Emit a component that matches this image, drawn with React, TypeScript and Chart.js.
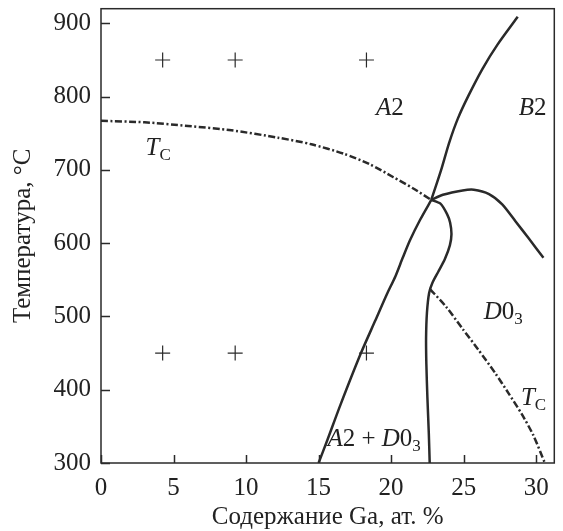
import React, { useEffect, useRef } from "react";
import { Chart, registerables } from "chart.js";
Chart.register(...registerables);

// Axis ticks
const xTickValues = [0, 5, 10, 15, 20, 25, 30];
const yTickValues = [300, 400, 500, 600, 700, 800, 900];
const xTitle = "Содержание Ga, ат. %";
const yTitle = "Температура, °C";

// Curves [x (at.% Ga), T (°C)]
const tcUpper: number[][] = [
  [0, 767], [3, 765], [6, 760], [9, 754], [12.2, 744], [14.5, 735],
  [16.75, 722], [18.5, 708], [20.16, 690], [21.5, 675], [22.77, 659],
];
const a2b2: number[][] = [
  [22.77, 659], [23.45, 700], [24.0, 737], [24.6, 770], [25.35, 802],
  [26.3, 838], [27.3, 870], [28.73, 909],
];
const b2d03: number[][] = [
  [22.77, 659], [23.57, 666], [24.93, 672], [25.7, 673], [26.75, 667],
  [27.66, 653], [28.57, 630], [29.47, 607], [30.5, 580],
];
const a2Left: number[][] = [
  [22.77, 659], [22.0, 632], [21.3, 604], [20.8, 580], [20.3, 555],
  [19.7, 530], [18.9, 494], [17.9, 449], [16.5, 379], [15.6, 331],
  [15.0, 300],
];
const innerLoop: number[][] = [
  [22.77, 659], [23.4, 654], [23.85, 640], [24.07, 628], [24.16, 612],
  [24.05, 597], [23.7, 578], [23.25, 561], [22.85, 546], [22.62, 532],
  [22.47, 505], [22.41, 470], [22.43, 435], [22.5, 390], [22.6, 340],
  [22.66, 300],
];
const tcLower: number[][] = [
  [22.7, 537], [23.8, 513], [24.93, 483], [26.0, 455], [27.2, 422],
  [28.1, 395], [29.0, 367], [29.8, 338], [30.6, 300],
];
const samplePoints: number[][] = [
  [4.25, 850], [9.25, 850], [18.3, 850],
  [4.25, 450], [9.25, 450], [18.3, 450],
];

// Region labels: x, y (baseline), parts: [text, style]  i = italic, n = normal, s = subscript
const regionLabels: { x: number; y: number; parts: [string, string][] }[] = [
  { x: 18.95, y: 775.5, parts: [["A", "i"], ["2", "n"]] },
  { x: 28.8, y: 775.5, parts: [["B", "i"], ["2", "n"]] },
  { x: 3.07, y: 721, parts: [["T", "i"], ["C", "s"]] },
  { x: 26.39, y: 497, parts: [["D", "i"], ["0", "n"], ["3", "s"]] },
  { x: 28.95, y: 379, parts: [["T", "i"], ["C", "s"]] },
  { x: 15.61, y: 323, parts: [["A", "i"], ["2 + ", "n"], ["D", "i"], ["0", "n"], ["3", "s"]] },
];

const FONT = "'Liberation Serif', 'DejaVu Serif', serif";
const FS = 25;
const INK = "#2a2a2a";
const TEXT = "#222";

const toXY = (arr: number[][]) => arr.map(([x, y]) => ({ x, y }));

const zeroPad = (scale: any) => {
  scale.paddingTop = 0;
  scale.paddingBottom = 0;
  scale.paddingLeft = 0;
  scale.paddingRight = 0;
};

export default function App() {
  const ref = useRef<HTMLCanvasElement>(null);
  useEffect(() => {
    const canvas = ref.current!;
    const dashDot = [7, 2.5, 2, 2.5];
    const lineDs = (data: number[][], dashed: boolean) => ({
      type: "scatter" as const,
      data: toXY(data),
      showLine: true,
      borderColor: INK,
      borderWidth: 2.5,
      borderDash: dashed ? dashDot : [],
      pointRadius: 0,
      tension: 0.25,
      fill: false,
    });

    const framePlugin = {
      id: "frame",
      afterDraw(chart: any) {
        const { ctx, chartArea: a, scales } = chart;
        const xs = scales.x, ys = scales.y;
        ctx.save();
        ctx.strokeStyle = INK;
        ctx.lineWidth = 1.5;
        ctx.strokeRect(a.left, a.top, a.right - a.left, a.bottom - a.top);
        ctx.beginPath();
        for (const v of xTickValues) {
          const px = Math.round(xs.getPixelForValue(v)) + 0.5;
          ctx.moveTo(px, a.bottom);
          ctx.lineTo(px, a.bottom - 8);
        }
        for (const v of yTickValues) {
          const py = Math.round(ys.getPixelForValue(v)) + 0.5;
          ctx.moveTo(a.left, py);
          ctx.lineTo(a.left + 9, py);
        }
        ctx.stroke();

        ctx.fillStyle = TEXT;
        ctx.textBaseline = "alphabetic";
        ctx.textAlign = "left";
        for (const lab of regionLabels) {
          let px = xs.getPixelForValue(lab.x);
          const py = ys.getPixelForValue(lab.y);
          for (const [t, s] of lab.parts) {
            if (s === "i") ctx.font = `italic ${FS}px ${FONT}`;
            else if (s === "s") ctx.font = `17px ${FONT}`;
            else ctx.font = `${FS}px ${FONT}`;
            const dy = s === "s" ? 5 : 0;
            ctx.fillText(t, px, py + dy);
            px += ctx.measureText(t).width;
          }
        }
        ctx.restore();
      },
    };

    const chart = new Chart(canvas, {
      type: "scatter",
      data: {
        datasets: [
          lineDs(tcUpper, true),
          lineDs(a2b2, false),
          lineDs(b2d03, false),
          lineDs(a2Left, false),
          lineDs(innerLoop, false),
          lineDs(tcLower, true),
          {
            type: "scatter",
            data: toXY(samplePoints),
            pointStyle: "cross",
            pointRadius: 7.5,
            pointBorderWidth: 1.2,
            borderColor: INK,
            backgroundColor: INK,
            showLine: false,
          } as any,
        ],
      },
      options: {
        animation: false,
        responsive: false,
        layout: { padding: { top: 7, right: 4, left: 0, bottom: 0 } },
        plugins: { legend: { display: false }, tooltip: { enabled: false } },
        scales: {
          x: {
            type: "linear",
            min: 0,
            max: 31.25,
            grid: { display: false, drawTicks: false },
            border: { display: false },
            ticks: {
              stepSize: 5,
              includeBounds: false,
              color: TEXT,
              font: { family: FONT, size: FS },
              padding: 10.5,
            },
            title: {
              display: true,
              text: xTitle,
              color: TEXT,
              font: { family: FONT, size: FS, lineHeight: 1 },
              padding: { top: 0, bottom: 1 },
            },
            afterFit(scale: any) { scale.height = 68; zeroPad(scale); },
          },
          y: {
            type: "linear",
            min: 300,
            max: 920,
            grid: { display: false, drawTicks: false },
            border: { display: false },
            ticks: {
              stepSize: 100,
              includeBounds: false,
              color: TEXT,
              font: { family: FONT, size: FS },
              padding: 10,
            },
            title: {
              display: true,
              text: yTitle,
              color: TEXT,
              font: { family: FONT, size: FS, lineHeight: 1 },
              padding: { top: 11, bottom: 0 },
            },
            afterFit(scale: any) { scale.width = 101; zeroPad(scale); },
          },
        },
      },
      plugins: [framePlugin],
    });
    return () => chart.destroy();
  }, []);

  return (
    <div style={{ position: "fixed", left: 0, top: 0, width: 563, height: 531, background: "#fff" }}>
      <canvas ref={ref} width={563} height={531} />
    </div>
  );
}
